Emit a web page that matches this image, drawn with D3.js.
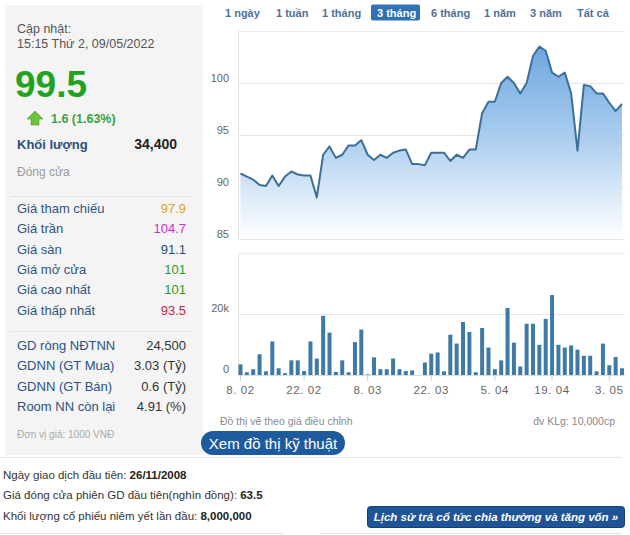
<!DOCTYPE html>
<html><head><meta charset="utf-8">
<script src="https://cdn.jsdelivr.net/npm/d3@7/dist/d3.min.js"></script>
<style>
html,body{margin:0;padding:0;background:#fff;}
svg{display:block;font-family:"Liberation Sans",Arial,sans-serif;}
</style></head>
<body><svg id="c" width="630" height="535"></svg>
<script>
// ---- data ----
const dates = ["08.02","09.02","10.02","11.02","14.02","15.02","16.02","17.02","18.02","21.02","22.02","23.02","24.02","25.02","28.02",
"01.03","02.03","03.03","04.03","07.03","08.03","09.03","10.03","11.03","14.03","15.03","16.03","17.03","18.03","21.03","22.03","23.03","24.03","25.03","28.03","29.03","30.03","31.03",
"01.04","04.04","05.04","06.04","07.04","08.04","12.04","13.04","14.04","15.04","18.04","19.04","20.04","21.04","22.04","25.04","26.04","27.04","28.04","29.04",
"04.05","05.05","06.05"];
const prices = [91.3,91.0,90.7,90.2,90.1,91.1,90.1,91.0,91.5,91.2,91.1,91.1,89.0,93.1,93.9,92.8,93.1,94.0,94.0,94.5,93.1,92.6,93.1,92.8,93.3,93.5,93.6,92.2,92.2,92.1,93.3,93.3,93.3,92.5,93.1,92.8,93.6,93.6,97.1,98.2,98.2,100.0,100.6,100.0,99.0,100.0,102.6,103.5,103.1,101.0,100.6,101.0,99.0,93.5,99.8,99.7,99.0,99.0,98.1,97.3,98.0];
const volumes = [3500,900,1900,6800,1200,11000,2200,600,4800,4800,1300,11000,5400,19400,13900,1000,4800,900,10800,14900,200,5800,1900,1900,5400,1900,1300,1500,0,4100,7000,7400,1200,13200,10300,17400,14100,900,15400,9000,1900,4800,22000,10600,2800,16800,16800,9900,18400,26200,9900,9000,9700,8300,6300,6300,1200,10300,3200,5900,2200];
const priceTicks = [85,90,95,100];
const volumeTicks = [0,20000];
const volumeTickLabels = ["0","20k"];
const xTickDates = ["08.02","22.02","08.03","22.03","05.04","19.04","04.05"];
const xTickLabels = ["8. 02","22. 02","8. 03","22. 03","5. 04","19. 04","3. 05"];
const rangeButtons = ["1 ngày","1 tuần","1 tháng","3 tháng","6 tháng","1 năm","3 năm","Tất cả"];
const rangeX = [225,276,322,377,431,484,530,577];
const infoRows = [["Giá tham chiếu","97.9","#e6a22a"],["Giá trần","104.7","#d42bd0"],["Giá sàn","91.1","#2c4d6e"],["Giá mở cửa","101","#2d9a1e"],["Giá cao nhất","101","#2d9a1e"],["Giá thấp nhất","93.5","#c0283a"]];
const foreignRows = [["GD ròng NĐTNN","24,500"],["GDNN (GT Mua)","3.03 (Tỷ)"],["GDNN (GT Bán)","0.6 (Tỷ)"],["Room NN còn lại","4.91 (%)"]];
const bottomRows = [["Ngày giao dịch đầu tiên: ","26/11/2008"],["Giá đóng cửa phiên GD đầu tiên(nghìn đồng): ","63.5"],["Khối lượng cổ phiếu niêm yết lần đầu: ","8,000,000"]];

const svg = d3.select("#c");
const defs = svg.append("defs");

// ---- left panel ----
svg.append("rect").attr("x",5).attr("y",5).attr("width",198).attr("height",450).attr("fill","#f4f4f4");
svg.append("text").attr("x",17).attr("y",33).attr("font-size",12.5).attr("fill","#555").text("Cập nhật:");
svg.append("text").attr("x",17).attr("y",48).attr("font-size",12.5).attr("fill","#555").text("15:15 Thứ 2, 09/05/2022");
svg.append("text").attr("x",15).attr("y",97).attr("font-size",37).attr("font-weight","bold").attr("fill","#21a321").text("99.5");
svg.append("path").attr("d","M35,111 L43,119 L39,119 L39,125 L31,125 L31,119 L27,119 Z").attr("fill","#6cc23a").attr("stroke","#4e9e22").attr("stroke-width",0.6);
svg.append("text").attr("x",51).attr("y",123).attr("font-size",12.5).attr("font-weight","bold").attr("fill","#3ba23b").text("1.6 (1.63%)");
svg.append("text").attr("x",17).attr("y",149).attr("font-size",13).attr("font-weight","bold").attr("fill","#2c4f80").text("Khối lượng");
svg.append("text").attr("x",177).attr("y",149).attr("text-anchor","end").attr("font-size",14).attr("font-weight","bold").attr("fill","#222").text("34,400");
svg.append("text").attr("x",17).attr("y",176).attr("font-size",12).attr("fill","#9a9a9a").text("Đóng cửa");
svg.append("line").attr("x1",10).attr("x2",192).attr("y1",196.5).attr("y2",196.5).attr("stroke","#e2e2e2");
infoRows.forEach((r,i)=>{
  const y = 213 + i*20.3;
  svg.append("text").attr("x",17).attr("y",y).attr("font-size",13).attr("fill","#2f557d").text(r[0]);
  svg.append("text").attr("x",186).attr("y",y).attr("text-anchor","end").attr("font-size",13).attr("fill",r[2]).text(r[1]);
});
svg.append("line").attr("x1",10).attr("x2",192).attr("y1",331.5).attr("y2",331.5).attr("stroke","#e6e6e6");
foreignRows.forEach((r,i)=>{
  const y = 350 + i*20.4;
  svg.append("text").attr("x",17).attr("y",y).attr("font-size",13).attr("fill","#2a5286").text(r[0]);
  svg.append("text").attr("x",186).attr("y",y).attr("text-anchor","end").attr("font-size",13).attr("fill","#333").text(r[1]);
});
svg.append("text").attr("x",17).attr("y",438).attr("font-size",10).attr("fill","#aaa").text("Đơn vị giá: 1000 VNĐ");

// ---- range buttons ----
svg.append("rect").attr("x",371).attr("y",4.5).attr("width",49).attr("height",16).attr("rx",2).attr("fill","#2f72b3");
rangeButtons.forEach((b,i)=>{
  svg.append("text").attr("x",rangeX[i]).attr("y",16.5).attr("font-size",11).attr("font-weight","bold")
    .attr("fill", b==="3 tháng" ? "#fff" : "#4d7199").text(b);
});

// ---- scales ----
const x = d3.scalePoint().domain(dates).range([240.5,622]);
const yP = d3.scaleLinear().domain([85,105]).range([239,31]);
const yV = d3.scaleLinear().domain([0,40000]).range([375,253]);
const L = 238, R = 625;

// price panel
svg.append("line").attr("x1",L).attr("x2",R).attr("y1",31.5).attr("y2",31.5).attr("stroke","#ececec");
svg.append("line").attr("x1",L+0.5).attr("x2",L+0.5).attr("y1",31).attr("y2",239).attr("stroke","#e3e3e3");
svg.append("g").selectAll("line").data(priceTicks).join("line")
  .attr("x1",L).attr("x2",R).attr("y1",d=>Math.round(yP(d))+0.5).attr("y2",d=>Math.round(yP(d))+0.5)
  .attr("stroke","#e6e6e6");
svg.append("g").selectAll("text").data(priceTicks).join("text")
  .attr("x",229).attr("y",d=>yP(d)-1).attr("text-anchor","end").attr("font-size",11).attr("fill","#666").text(d=>d);

const grad = defs.append("linearGradient").attr("id","ag")
  .attr("gradientUnits","userSpaceOnUse").attr("x1",0).attr("x2",0).attr("y1",yP(104)).attr("y2",yP(85));
grad.append("stop").attr("offset",0).attr("stop-color","#6aa4dd");
grad.append("stop").attr("offset",0.45).attr("stop-color","#a6caee");
grad.append("stop").attr("offset",1).attr("stop-color","#ffffff");

const area = d3.area().x((d,i)=>x(dates[i])).y0(yP(85)).y1(d=>yP(d));
const line = d3.line().x((d,i)=>x(dates[i])).y(d=>yP(d));
svg.append("path").datum(prices).attr("d",area).attr("fill","url(#ag)");
svg.append("path").datum(prices).attr("d",line).attr("fill","none").attr("stroke","#3c6f98").attr("stroke-width",2).attr("stroke-linejoin","round");

// volume panel
svg.append("line").attr("x1",L).attr("x2",R).attr("y1",253.5).attr("y2",253.5).attr("stroke","#ececec");
svg.append("line").attr("x1",L+0.5).attr("x2",L+0.5).attr("y1",253).attr("y2",376).attr("stroke","#e3e3e3");
svg.append("line").attr("x1",L).attr("x2",R).attr("y1",Math.round(yV(20000))+0.5).attr("y2",Math.round(yV(20000))+0.5).attr("stroke","#e6e6e6");
svg.append("g").selectAll("text").data(volumeTicks).join("text")
  .attr("x",229).attr("y",d=>yV(d)-2).attr("text-anchor","end").attr("font-size",11).attr("fill","#666").text((d,i)=>volumeTickLabels[i]);
svg.append("g").selectAll("rect").data(volumes).join("rect")
  .attr("x",(d,i)=>x(dates[i])-2).attr("width",4)
  .attr("y",d=>yV(d)).attr("height",d=>yV(0)-yV(d))
  .attr("fill","#3d7aa6");
svg.append("line").attr("x1",L).attr("x2",R).attr("y1",375.5).attr("y2",375.5).attr("stroke","#dcdcdc");
svg.append("g").selectAll("line").data(xTickDates).join("line")
  .attr("x1",d=>x(d)).attr("x2",d=>x(d)).attr("y1",375).attr("y2",381).attr("stroke","#cfcfcf");
svg.append("g").selectAll("text").data(xTickDates).join("text")
  .attr("x",d=>x(d)).attr("y",394).attr("text-anchor","middle").attr("font-size",11.5).attr("fill","#666")
  .attr("letter-spacing",0.6).text((d,i)=>xTickLabels[i]);

svg.append("text").attr("x",220).attr("y",425).attr("font-size",10.5).attr("fill","#8a8a8a").text("Đồ thị vẽ theo giá điều chỉnh");
svg.append("text").attr("x",615).attr("y",425).attr("text-anchor","end").attr("font-size",10.5).attr("fill","#8a8a8a").text("đv KLg: 10,000cp");

// technical chart button
svg.append("rect").attr("x",201).attr("y",431).attr("width",144).attr("height",24).attr("rx",12).attr("fill","#1e5b9c");
svg.append("text").attr("x",273).attr("y",449).attr("text-anchor","middle").attr("font-size",15).attr("fill","#fff").text("Xem đồ thị kỹ thuật");

// bottom section
svg.append("line").attr("x1",0).attr("x2",622).attr("y1",457.5).attr("y2",457.5).attr("stroke","#e4e4e4");
bottomRows.forEach((r,i)=>{
  const t = svg.append("text").attr("x",3).attr("y",479 + i*20.3).attr("font-size",11.5).attr("fill","#333");
  t.append("tspan").text(r[0]);
  t.append("tspan").attr("font-weight","bold").attr("fill","#222").text(r[1]);
});
svg.append("rect").attr("x",367.5).attr("y",506.5).attr("width",257).attr("height",21).attr("rx",3).attr("fill","#1f5596").attr("stroke","#173f70");
svg.append("text").attr("x",496).attr("y",521).attr("text-anchor","middle").attr("font-size",11.5).attr("font-weight","bold").attr("font-style","italic").attr("fill","#fff").text("Lịch sử trả cổ tức chia thường và tăng vốn »");
svg.append("line").attr("x1",0).attr("x2",285).attr("y1",533.5).attr("y2",533.5).attr("stroke","#e4e4e4");
svg.append("line").attr("x1",320).attr("x2",622).attr("y1",533.5).attr("y2",533.5).attr("stroke","#e4e4e4");
</script></body></html>
